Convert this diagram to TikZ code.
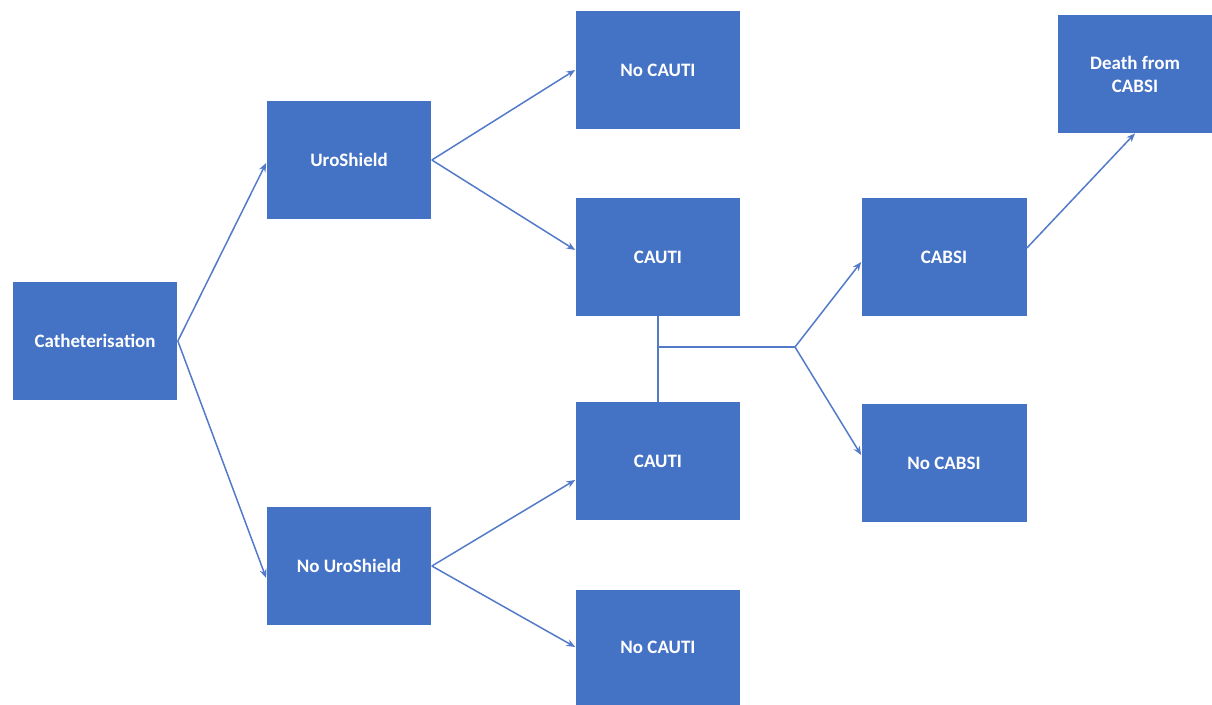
\documentclass[tikz,border=0pt]{standalone}
\usepackage{fontspec}
\setmainfont{Carlito}
\usetikzlibrary{arrows.meta}
\definecolor{boxblue}{RGB}{68,114,196}
\definecolor{lineblue}{RGB}{82,122,200}

\begin{document}
\begin{tikzpicture}[x=0.02cm, y=-0.02cm,
        box/.style={fill=boxblue, text=white, font=\bfseries\fontsize{10.8}{13}\selectfont,
          minimum width=3.3cm, minimum height=2.36cm, inner sep=0pt, align=center},
        arr/.style={lineblue, line width=0.85pt, -{Stealth[length=5pt,width=4pt]}},
        link/.style={lineblue, line width=0.85pt}]
        \useasboundingbox (0,0) rectangle (1212,704);
        % decision and chance nodes
        \node[box] (cath) at (95,341) {Catheterisation};
        \node[box] (uro) at (349,160) {UroShield};
        \node[box] (nouro) at (349,566) {No UroShield};
        \node[box] (nocautiA) at (658,70) {No CAUTI};
        \node[box] (cautiA) at (658,257) {CAUTI};
        \node[box] (cautiB) at (658,461) {CAUTI};
        \node[box, minimum height=2.3cm] (nocautiB) at (658,647) {No CAUTI};
        \node[box] (cabsi) at (944,257) {CABSI};
        \node[box] (nocabsi) at (944,463) {No CABSI};
        \node[box, minimum width=3.1cm] (death) at (1135,74) {Death from\\CABSI};
        \coordinate (split) at (795,347);
        \coordinate (join) at (658,347);

        % branches
        \draw[arr] (cath.east) -- ([yshift=-0.06cm]uro.west);
        \draw[arr] (cath.east) -- ([yshift=-0.24cm]nouro.west);
        \draw[arr] (uro.east) -- (nocautiA.west);
        \draw[arr] (uro.east) -- ([yshift=0.14cm]cautiA.west);
        \draw[arr] (nouro.east) -- ([yshift=-0.38cm]cautiB.west);
        \draw[arr] (nouro.east) -- (nocautiB.west);
        % both CAUTI branches merge
        \draw[link] (cautiA.south) -- (cautiB.north);
        \draw[link] (join) -- (split);
        \draw[arr] (split) -- ([yshift=-0.1cm]cabsi.west);
        \draw[arr] (split) -- ([yshift=0.16cm]nocabsi.west);
        \draw[arr] ([yshift=0.18cm]cabsi.east) -- (death.south);
    \end{tikzpicture}
\end{document}
